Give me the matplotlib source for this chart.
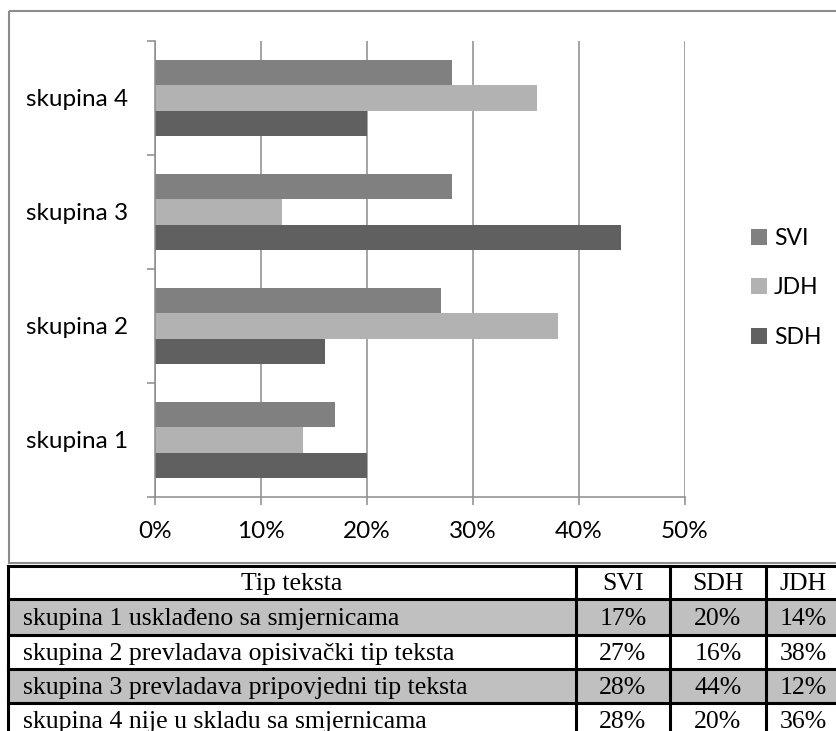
import numpy as np
import matplotlib.pyplot as plt
from matplotlib.patches import Rectangle
from matplotlib.ticker import PercentFormatter

plt.rcParams['font.family'] = ['Lato', 'DejaVu Sans']

# data
groups = ['skupina 1', 'skupina 2', 'skupina 3', 'skupina 4']
svi = [17, 27, 28, 28]
sdh = [20, 16, 44, 20]
jdh = [14, 38, 12, 36]
table_header = ['Tip teksta', 'SVI', 'SDH', 'JDH']
row_labels = ['skupina 1 usklađeno sa smjernicama',
              'skupina 2 prevladava opisivački tip teksta',
              'skupina 3 prevladava pripovjedni tip teksta',
              'skupina 4 nije u skladu sa smjernicama']

W, H = 837, 731
fig = plt.figure(figsize=(W / 100, H / 100), dpi=100)

# background layer in pixel coordinates: chart frame + table
bg = fig.add_axes([0, 0, 1, 1])
bg.set_xlim(0, W)
bg.set_ylim(H, 0)
bg.axis('off')
bg.add_patch(Rectangle((9, 11), 900, 552, fill=False, ec='#8c8c8c', lw=1.5))

col_x = [8, 576, 670, 766, 840]
row_y = [566, 599, 635, 669, 703, 737]
for i in range(len(row_labels)):
    if i % 2 == 0:
        bg.add_patch(Rectangle((col_x[0], row_y[i + 1]), col_x[-1] - col_x[0],
                               row_y[i + 2] - row_y[i + 1], fc='#c0c0c0', ec='none'))
for yy in row_y:
    bg.plot([col_x[0], col_x[-1]], [yy, yy], color='black', lw=2.2, solid_capstyle='projecting')
for xx in col_x:
    bg.plot([xx, xx], [row_y[0], row_y[-1]], color='black', lw=2.2, solid_capstyle='projecting')

tfont = dict(family='Liberation Serif', fontsize=18.5, va='center')
bg.text((col_x[0] + col_x[1]) / 2, (row_y[0] + row_y[1]) / 2 + 1.5, table_header[0], ha='center', **tfont)
for j in range(1, 4):
    bg.text((col_x[j] + col_x[j + 1]) / 2, (row_y[0] + row_y[1]) / 2 + 1.5, table_header[j], ha='center', **tfont)
cols = [svi, sdh, jdh]
for i, lab in enumerate(row_labels):
    yc = (row_y[i + 1] + row_y[i + 2]) / 2 + 2
    bg.text(col_x[0] + 15, yc, lab, ha='left', **tfont)
    for j, c in enumerate(cols):
        bg.text((col_x[j + 1] + col_x[j + 2]) / 2, yc, f'{c[i]}%', ha='center', **tfont)

# bar chart
ax = fig.add_axes([155 / W, 1 - 497 / H, 530 / W, 456 / H], facecolor='none')
y = np.arange(len(groups))
h = 0.22
ax.barh(y + h, svi, h, color='#808080', label='SVI')
ax.barh(y, jdh, h, color='#b2b2b2', label='JDH')
ax.barh(y - h, sdh, h, color='#606060', label='SDH')

ax.set_xlim(0, 50)
ax.set_ylim(-0.5, 3.5)
ax.set_xticks(range(0, 51, 10))
ax.xaxis.set_major_formatter(PercentFormatter(decimals=0))
ax.set_yticks(np.arange(-0.5, 4, 1))
ax.set_yticklabels([])
ax.set_yticks(y, minor=True)
ax.set_yticklabels(groups, minor=True)
ax.tick_params(axis='y', which='minor', length=0, pad=19, labelsize=17.5)
ax.tick_params(axis='y', which='major', length=6, width=1.1, color='#8c8c8c')
ax.tick_params(axis='x', length=6, width=1.1, color='#8c8c8c', pad=11, labelsize=17.5)
ax.grid(axis='x', color='#8c8c8c', lw=1.1)
ax.set_axisbelow(True)
for s in ['top', 'right']:
    ax.spines[s].set_visible(False)
for s in ['left', 'bottom']:
    ax.spines[s].set_color('#8c8c8c')
    ax.spines[s].set_linewidth(1.1)

handles, labels = ax.get_legend_handles_labels()
fig.legend(handles, labels, loc='center left', bbox_to_anchor=(751 / W, 1 - 288 / H),
           frameon=False, fontsize=16.5, handlelength=0.7, handleheight=0.7,
           handletextpad=0.3, labelspacing=1.25, borderpad=0, borderaxespad=0)

fig.savefig('out.png', dpi=100)
